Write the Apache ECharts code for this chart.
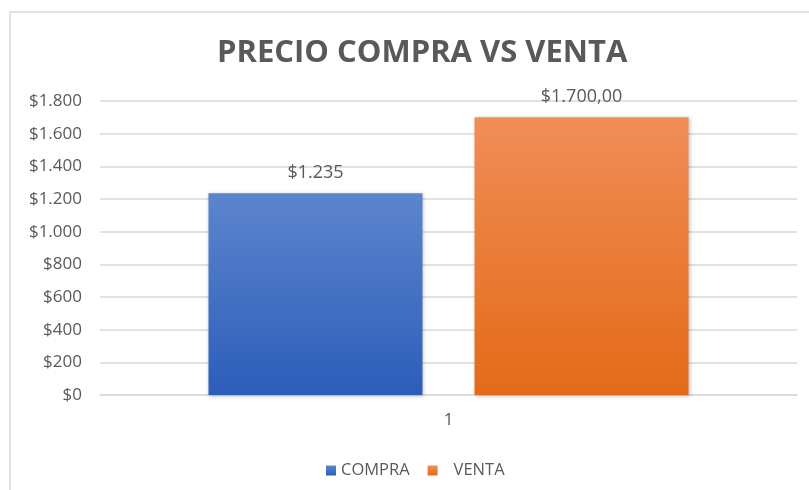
<!DOCTYPE html>
<html>
<head>
<meta charset="utf-8">
<script src="https://cdn.jsdelivr.net/npm/echarts@6/dist/echarts.min.js"></script>
<style>
html,body{margin:0;padding:0;background:#fff;}
#chart{width:809px;height:490px;}
</style>
</head>
<body>
<div id="chart"></div>
<script>
const titleText = "PRECIO COMPRA VS VENTA";
const categories = ["1"];
const seriesNames = ["COMPRA", "VENTA"];
const compraValues = [1235];
const ventaValues = [1700];
const yTicks = [0, 200, 400, 600, 800, 1000, 1200, 1400, 1600, 1800];

const FONT = "'Open Sans', Lato, sans-serif";
const TXT = "#595959";

function fmtThousands(v) {
  return String(Math.round(v)).replace(/\B(?=(\d{3})+(?!\d))/g, ".");
}

const chart = echarts.init(document.getElementById('chart'));
chart.setOption({
  backgroundColor: '#ffffff',
  animation: false,
  textStyle: { fontFamily: FONT },
  graphic: [{
    type: 'rect',
    shape: { x: 10, y: 12, width: 820, height: 500 },
    style: { fill: 'none', stroke: '#d9d9d9', lineWidth: 1.5 },
    silent: true
  }],
  title: {
    text: titleText,
    left: 212,
    top: 33,
    textStyle: { fontFamily: FONT, fontWeight: 'bold', fontSize: 31, color: TXT }
  },
  legend: {
    data: seriesNames,
    top: 457,
    left: 321,
    itemWidth: 10,
    itemHeight: 10,
    itemGap: 18,
    icon: 'rect',
    formatter: name => name === 'VENTA' ? '{p|}' + name : name,
    textStyle: {
      fontFamily: FONT, fontSize: 16.5, color: TXT,
      rich: { p: { width: 11, fontFamily: FONT, fontSize: 16.5 } }
    }
  },
  grid: { left: 100, right: 12, top: 101, bottom: 95, containLabel: false },
  xAxis: {
    type: 'category',
    data: categories,
    axisLine: { show: true, lineStyle: { color: '#d9d9d9', width: 1.5 } },
    axisTick: { show: false },
    axisLabel: { fontFamily: FONT, fontSize: 17, color: TXT, margin: 17 }
  },
  yAxis: {
    type: 'value',
    min: yTicks[0],
    max: yTicks[yTicks.length - 1],
    interval: yTicks[1] - yTicks[0],
    axisLine: { show: false },
    axisTick: { show: false },
    splitLine: { lineStyle: { color: '#d9d9d9', width: 1.5 } },
    axisLabel: {
      fontFamily: FONT, fontSize: 17, color: TXT, margin: 18,
      formatter: v => '$' + fmtThousands(v)
    }
  },
  series: [
    {
      name: seriesNames[0],
      type: 'bar',
      data: compraValues,
      barWidth: 214,
      barGap: '24.3%',
      itemStyle: {
        color: new echarts.graphic.LinearGradient(0, 0, 0, 1, [
          { offset: 0, color: '#5D85CE' },
          { offset: 1, color: '#2C5DB9' }
        ]),
        shadowColor: 'rgba(0,0,0,0.25)', shadowBlur: 4, shadowOffsetX: 1, shadowOffsetY: 1
      },
      label: {
        show: true, position: 'top', distance: 11,
        fontFamily: FONT, fontSize: 18, color: TXT,
        formatter: p => '$' + fmtThousands(p.value)
      }
    },
    {
      name: seriesNames[1],
      type: 'bar',
      data: ventaValues,
      barWidth: 214,
      itemStyle: {
        color: new echarts.graphic.LinearGradient(0, 0, 0, 1, [
          { offset: 0, color: '#F08D57' },
          { offset: 1, color: '#E46A18' }
        ]),
        shadowColor: 'rgba(0,0,0,0.25)', shadowBlur: 4, shadowOffsetX: 1, shadowOffsetY: 1
      },
      label: {
        show: true, position: 'top', distance: 11,
        fontFamily: FONT, fontSize: 18, color: TXT,
        formatter: p => '$' + fmtThousands(p.value) + ',00'
      }
    }
  ]
});
</script>
</body>
</html>
